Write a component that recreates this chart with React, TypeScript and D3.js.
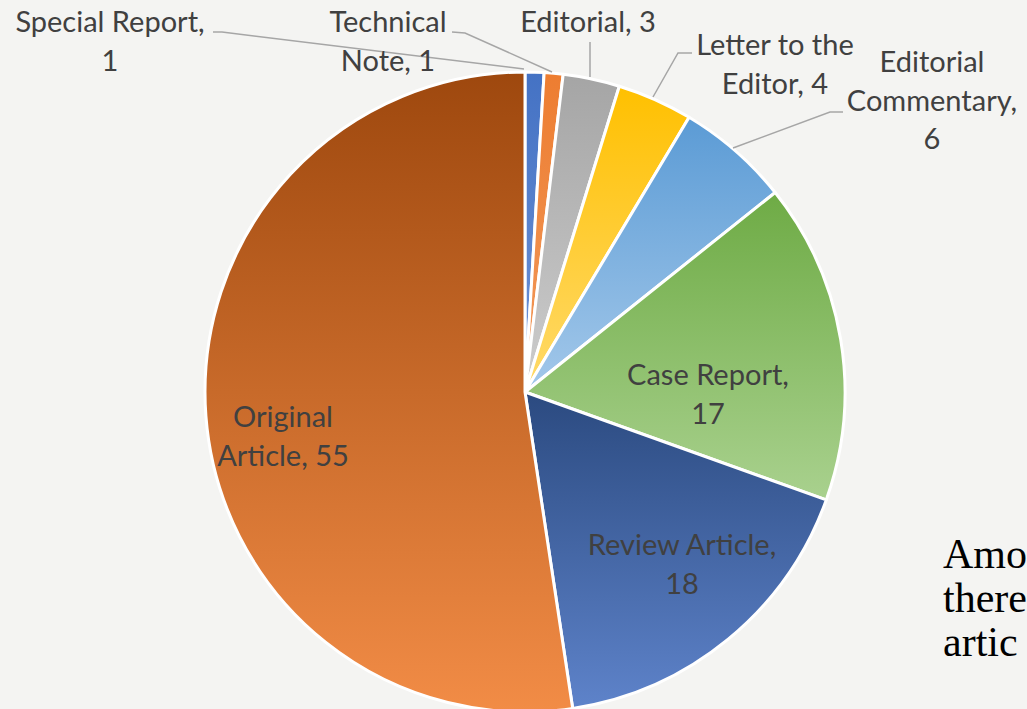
import React from "react";
import * as d3 from "d3";

const categories = [
  "Special Report",
  "Technical Note",
  "Editorial",
  "Letter to the Editor",
  "Editorial Commentary",
  "Case Report",
  "Review Article",
  "Original Article",
];
const values = [1, 1, 3, 4, 6, 17, 18, 55];
const topColors = ["#4472C4", "#ED7D31", "#A5A5A5", "#FFC000", "#5B9BD5", "#6EAB45", "#2B4A80", "#9E480E"];
const bottomColors = ["#6F93D6", "#F29A5C", "#CDCDCD", "#FFDA6B", "#A3C8EA", "#A9D18E", "#5E83CA", "#F28C46"];
// words per line for each data label
const wordsPerLine = [[2, 1], [1, 2], [2], [3, 2], [1, 1, 1], [2, 1], [2, 1], [1, 2]];
const sideText = ["Amo", "there", "artic"];

const W = 1027;
const H = 709;
const CX = 525;
const CY = 392;
const R = 320;

// label layout (center x, first baseline y)
const labelPos = [
  [110, 32],
  [388, 32],
  [588, 32],
  [775, 55],
  [932, 72],
  [708, 385],
  [682, 555],
  [283, 427],
];
const leaders: number[][][] = [
  [[213, 32], [222, 32], [524, 69]],
  [[452, 32], [465, 33], [552, 72]],
  [[590, 42], [590, 77]],
  [[692, 53], [678, 53], [653, 97]],
  [[843, 112], [830, 112], [733, 148]],
];

function splitLabel(i: number): string[] {
  const words = `${categories[i]}, ${values[i]}`.split(" ");
  const out: string[] = [];
  let k = 0;
  for (const n of wordsPerLine[i]) {
    out.push(words.slice(k, k + n).join(" "));
    k += n;
  }
  return out;
}

export default function App() {
  const pie = d3
    .pie<number>()
    .sort(null)
    .value((d) => d)
    .startAngle(0)
    .endAngle(2 * Math.PI);
  const arcs = pie(values);
  const arc = d3.arc<d3.PieArcDatum<number>>().innerRadius(0).outerRadius(R);
  const line = d3.line();

  return (
    <svg
      width={W}
      height={H}
      style={{ position: "absolute", left: 0, top: 0, display: "block" }}
      fontFamily="Lato, 'Noto Sans', sans-serif"
    >
      <defs>
        {values.map((_, i) => (
          <linearGradient key={i} id={`g${i}`} x1="0" y1="0" x2="0" y2="1">
            <stop offset="0" stopColor={topColors[i]} />
            <stop offset="1" stopColor={bottomColors[i]} />
          </linearGradient>
        ))}
      </defs>
      <rect x={0} y={0} width={W} height={H} fill="#F4F4F2" />
      <g transform={`translate(${CX},${CY})`}>
        {arcs.map((a, i) => (
          <path
            key={i}
            d={arc(a) || ""}
            fill={`url(#g${i})`}
            stroke="#FFFFFF"
            strokeWidth={3}
            strokeLinejoin="round"
          />
        ))}
      </g>
      {leaders.map((pts, i) => (
        <path
          key={i}
          d={line(pts as [number, number][]) || ""}
          fill="none"
          stroke="#A6A6A6"
          strokeWidth={1.5}
        />
      ))}
      {values.map((_, i) => (
        <text
          key={i}
          x={labelPos[i][0]}
          y={labelPos[i][1]}
          textAnchor="middle"
          fontSize={29}
          fill="#404040"
        >
          {splitLabel(i).map((t, j) => (
            <tspan key={j} x={labelPos[i][0]} dy={j === 0 ? 0 : 38.5}>
              {t}
            </tspan>
          ))}
        </text>
      ))}
      <text x={943} y={568} fontFamily="'Liberation Serif', 'Times New Roman', serif" fontSize={42} fill="#000">
        {sideText.map((t, j) => (
          <tspan key={j} x={943} dy={j === 0 ? 0 : 44}>
            {t}
          </tspan>
        ))}
      </text>
    </svg>
  );
}
